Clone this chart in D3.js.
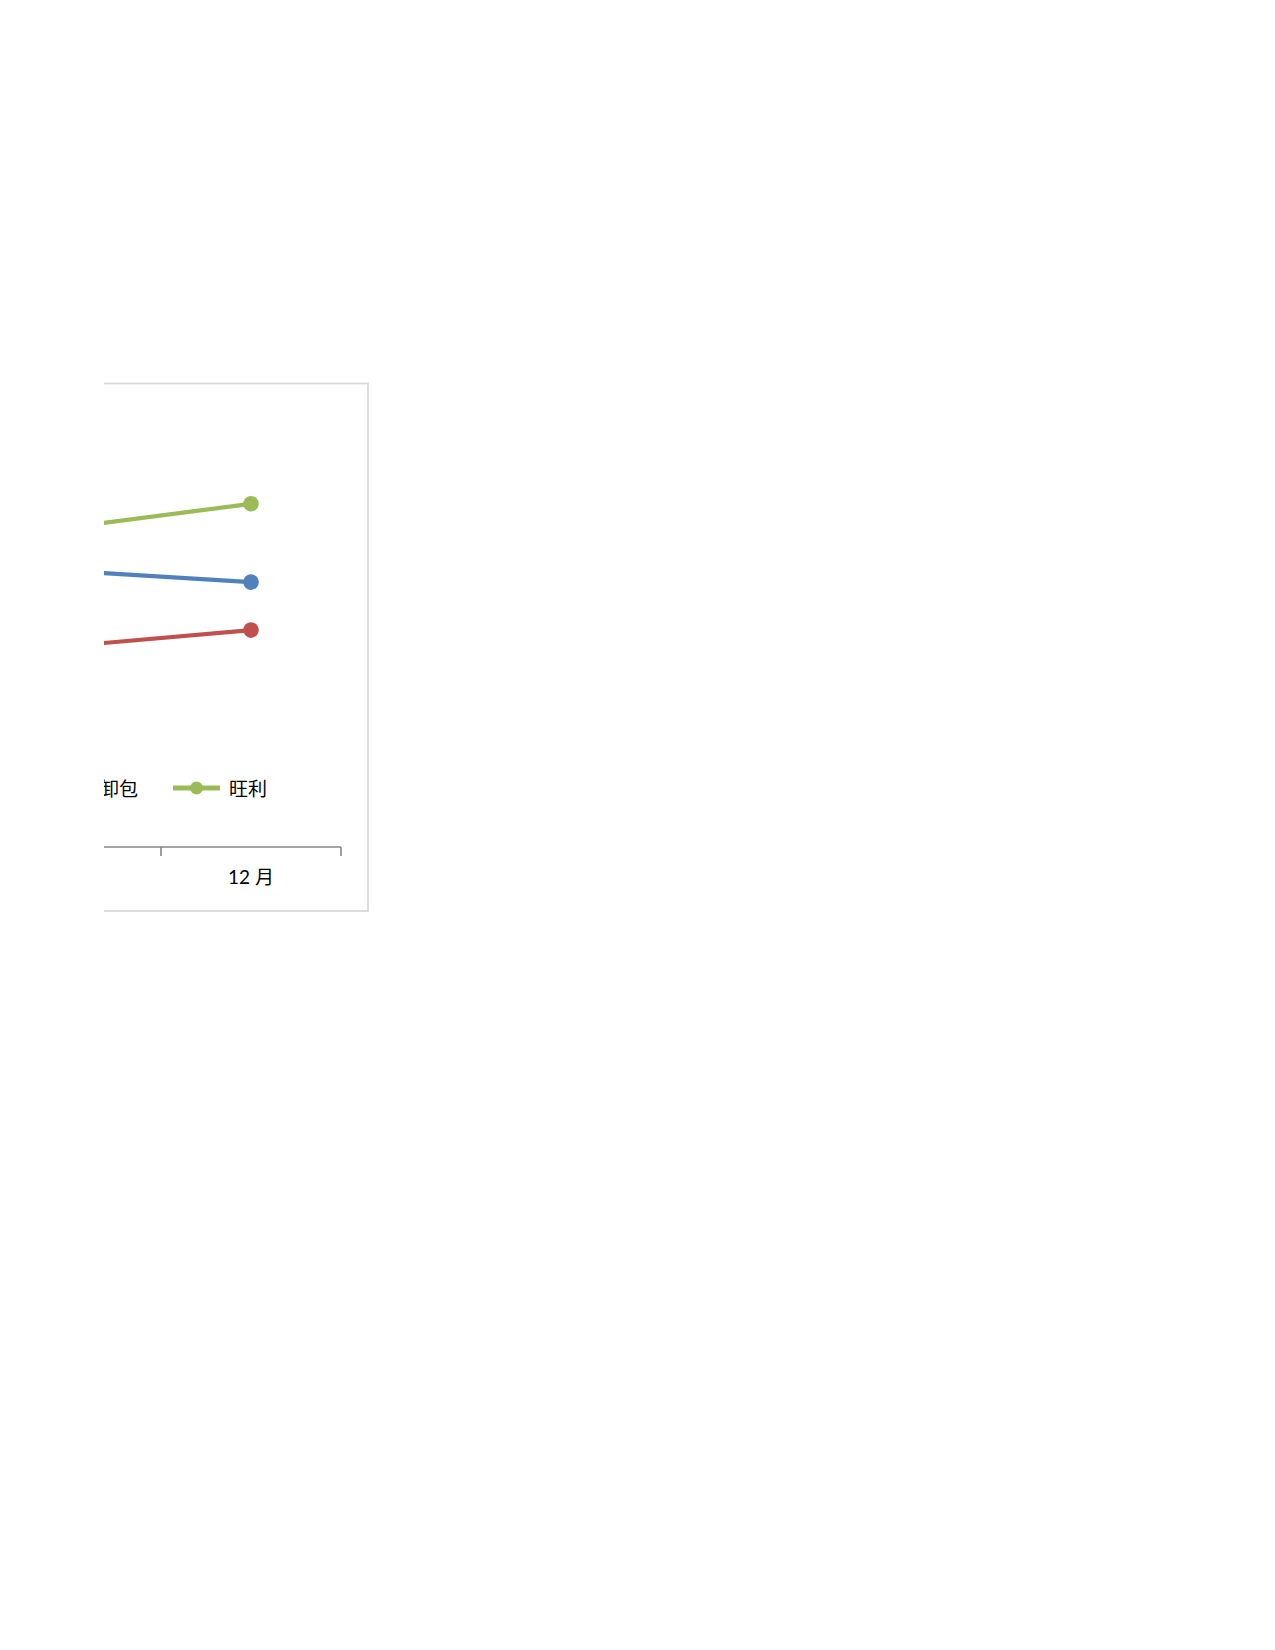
<!DOCTYPE html>
<html>
<head>
<meta charset="utf-8">
<script src="https://cdn.jsdelivr.net/npm/d3@7"></script>
<style>
  html, body { margin: 0; padding: 0; background: #fff; }
  text { font-family: Lato, "Noto Sans CJK SC", sans-serif; fill: #000; }
</style>
</head>
<body>
<script>
// Data (only the last two months are visible)
var months = ['11 月', '12 月'];
var seriesNames = ['旺旺', '卸包', '旺利'];
var seriesColors = ['#4f81bd', '#c0504d', '#9bbb59'];
var blueVals = [62.7, 60.2];
var redVals = [45.7, 49.3];
var greenVals = [72.7, 78.0];

var seriesVals = [blueVals, redVals, greenVals];

// Page-sized svg, the chart is cut off on the left at x=104
var svg = d3.select('body')
  .append('svg')
  .attr('width', 1275)
  .attr('height', 1650);

svg.append('clipPath')
  .attr('id', 'pageClip')
  .append('rect')
  .attr('x', 104)
  .attr('y', 0)
  .attr('width', 1171)
  .attr('height', 1650);

var g = svg.append('g').attr('clip-path', 'url(#pageClip)');

// chart frame
g.append('rect')
  .attr('x', -400)
  .attr('y', 383.5)
  .attr('width', 768)
  .attr('height', 527.5)
  .attr('fill', '#fff')
  .attr('stroke', '#d9d9d9')
  .attr('stroke-width', 1.8);

var x = d3.scaleBand()
  .domain(months)
  .range([-19, 341])
  .paddingInner(0)
  .paddingOuter(0);

var y = d3.scaleLinear()
  .domain([0, 100])
  .range([847, 407]);

function cx(d) {
  return x(d) + x.bandwidth() / 2;
}

// category axis
var axisY = y(0);
g.append('line')
  .attr('x1', x.range()[0])
  .attr('x2', x.range()[1])
  .attr('y1', axisY)
  .attr('y2', axisY)
  .attr('stroke', '#878787')
  .attr('stroke-width', 1.6);

var tickPos = months.map(function(m) { return x(m); }).concat([x.range()[1]]);
g.selectAll('line.tick')
  .data(tickPos)
  .enter()
  .append('line')
  .attr('class', 'tick')
  .attr('x1', function(d) { return d; })
  .attr('x2', function(d) { return d; })
  .attr('y1', axisY)
  .attr('y2', axisY + 9)
  .attr('stroke', '#878787')
  .attr('stroke-width', 1.6);

g.selectAll('text.month')
  .data(months)
  .enter()
  .append('text')
  .attr('class', 'month')
  .attr('x', cx)
  .attr('y', 876)
  .attr('text-anchor', 'middle')
  .attr('dominant-baseline', 'central')
  .attr('font-size', '19px')
  .text(function(d) { return d; });

// lines and markers
var line = d3.line()
  .x(function(d, i) { return cx(months[i]); })
  .y(function(d) { return y(d); });

seriesVals.forEach(function(vals, s) {
  g.append('path')
    .datum(vals)
    .attr('d', line)
    .attr('fill', 'none')
    .attr('stroke', seriesColors[s])
    .attr('stroke-width', 4.2)
    .attr('stroke-linejoin', 'round');

  g.selectAll('circle.s' + s)
    .data(vals)
    .enter()
    .append('circle')
    .attr('class', 's' + s)
    .attr('cx', function(d, i) { return cx(months[i]); })
    .attr('cy', function(d) { return y(d); })
    .attr('r', 7.8)
    .attr('fill', seriesColors[s]);
});

// legend
var legendStep = 129;
var legendX0 = 173 - 2 * legendStep;
var legendY = 788;
var items = g.selectAll('g.legend')
  .data(seriesNames)
  .enter()
  .append('g')
  .attr('class', 'legend')
  .attr('transform', function(d, i) {
    return 'translate(' + (legendX0 + i * legendStep) + ',' + legendY + ')';
  });

items.append('line')
  .attr('x1', 0)
  .attr('x2', 47)
  .attr('y1', 0)
  .attr('y2', 0)
  .attr('stroke', function(d, i) { return seriesColors[i]; })
  .attr('stroke-width', 5);

items.append('circle')
  .attr('cx', 23.5)
  .attr('cy', 0)
  .attr('r', 6.5)
  .attr('fill', function(d, i) { return seriesColors[i]; });

items.append('text')
  .attr('x', 56)
  .attr('y', 0)
  .attr('dominant-baseline', 'central')
  .attr('font-size', '19px')
  .text(function(d) { return d; });
</script>
</body>
</html>
